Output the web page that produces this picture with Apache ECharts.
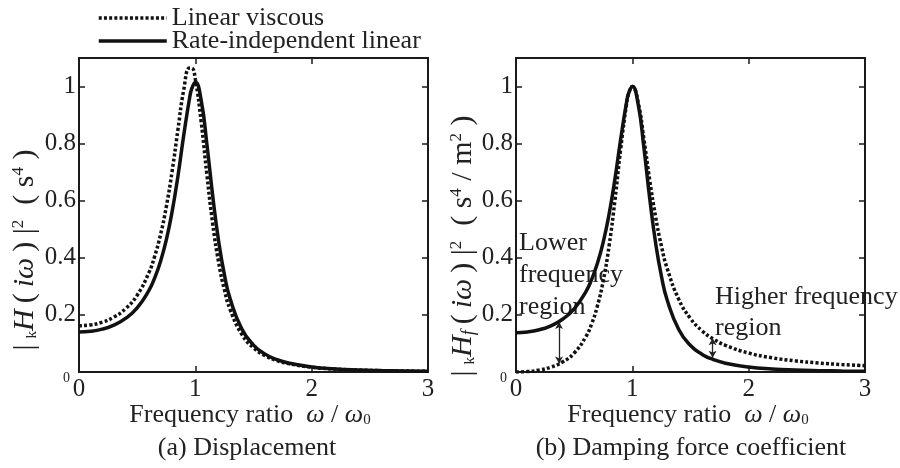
<!DOCTYPE html>
<html>
<head>
<meta charset="utf-8">
<script src="https://cdn.jsdelivr.net/npm/echarts@6/dist/echarts.min.js"></script>
<style>
html,body{margin:0;padding:0;background:#fff;}
#c{width:900px;height:468px;}
</style>
</head>
<body>
<div id="c"></div>
<script>
// Frequency ratio samples
const freqRatio = [0,0.1,0.2,0.3,0.4,0.5,0.6,0.65,0.7,0.75,0.8,0.85,0.9,0.95,0.97,1.0,1.05,1.1,1.15,1.2,1.25,1.3,1.4,1.5,1.6,1.7,1.8,2.0,2.2,2.4,2.6,2.8,3.0];
// (a) Displacement
const dispViscous = [0.162,0.165,0.1746,0.1923,0.2217,0.2691,0.3473,0.4047,0.48,0.578,0.7021,0.8474,0.9873,1.0651,1.0647,1.0253,0.8771,0.6885,0.5176,0.3847,0.2876,0.218,0.1316,0.0845,0.0571,0.0402,0.0293,0.0168,0.0104,0.0069,0.0047,0.0034,0.0025];
const dispRateInd = [0.14,0.1424,0.1501,0.1644,0.1876,0.2248,0.2851,0.3291,0.3866,0.4621,0.5608,0.6852,0.8281,0.9581,0.9933,1.015,0.9525,0.7957,0.6151,0.4593,0.3409,0.2553,0.1501,0.0943,0.0626,0.0435,0.0314,0.0177,0.0109,0.0071,0.0049,0.0035,0.0025];
// (b) Damping force coefficient
const dampViscous = [0,0.0016,0.0069,0.0171,0.035,0.0664,0.1233,0.1685,0.2316,0.3198,0.4414,0.6002,0.7821,0.9382,0.9773,1.0,0.9438,0.8145,0.6704,0.5434,0.4414,0.3622,0.2539,0.1873,0.1441,0.1146,0.0936,0.0664,0.0499,0.0391,0.0316,0.0261,0.022];
const dampRateInd = [0.1379,0.1403,0.1479,0.1619,0.1848,0.2215,0.2809,0.3242,0.3809,0.4553,0.5525,0.6751,0.8159,0.9439,0.9786,1.0,0.9384,0.7839,0.606,0.4525,0.3358,0.2515,0.1479,0.0929,0.0617,0.0429,0.0309,0.0175,0.0107,0.007,0.0048,0.0034,0.0025];
// Annotation arrows: [x, yTop, yBottom]
const lowerArrow = [0.37, 0.175, 0.03];
const higherArrow = [1.69, 0.118, 0.05];
const seriesNames = ['Linear viscous', 'Rate-independent linear'];

const FONT = 'Liberation Serif';
const TXT = '#222';
const AX = '#1a1a1a';

function pairs(arr){ return freqRatio.map((x,i)=>[x,arr[i]]); }

function xAx(gridIndex, top){
  return {
    type:'value', gridIndex, position: top ? 'top' : 'bottom', min:0, max:3, interval:1,
    axisLine:{show:true, onZero:false, lineStyle:{color:AX,width:2}},
    axisTick:{show:true, inside:true, length:6, lineStyle:{color:AX,width:1.5}},
    axisLabel:{show:!top, fontFamily:FONT, fontSize:25, color:TXT, margin:5},
    splitLine:{show:false}
  };
}
function yAx(gridIndex, right){
  return {
    type:'value', gridIndex, position: right ? 'right' : 'left', min:0, max:1.1, interval:0.2,
    axisLine:{show:true, onZero:false, lineStyle:{color:AX,width:2}},
    axisTick:{show:true, inside:true, length:6, lineStyle:{color:AX,width:1.5}},
    axisLabel:{show:!right, showMaxLabel:false, fontFamily:FONT, fontSize:25, color:TXT, margin:3,
      formatter: v => v === 0 ? '{s|0}' : String(+v.toFixed(1)),
      rich:{s:{fontFamily:FONT, fontSize:14, color:TXT, padding:[12,6,0,0]}}},
    splitLine:{show:false}
  };
}

const dotted = {color:'#111', width:3.5, type:[3,2.2]};
const solid = {color:'#111', width:3.5, type:'solid'};

function line(name, data, xi, yi, style, extra){
  return Object.assign({
    name, type:'line', xAxisIndex:xi, yAxisIndex:yi, data:pairs(data),
    showSymbol:false, symbol:'none', smooth:0.5,
    lineStyle:style, itemStyle:{color:'#111'}, animation:false, z:3
  }, extra || {});
}

const arrowMark = {
  silent:true, symbol:['arrow','arrow'], symbolSize:[6,7],
  lineStyle:{color:'#222', width:1.3, type:'solid'}, label:{show:false},
  data:[
    [{coord:[lowerArrow[0], lowerArrow[1]]},{coord:[lowerArrow[0], lowerArrow[2]]}],
    [{coord:[higherArrow[0], higherArrow[1]]},{coord:[higherArrow[0], higherArrow[2]]}]
  ]
};

const baseText = {fontFamily:FONT, fontSize:26, fill:TXT};
function txt(x, y, text, extra){
  return {type:'text', x, y, silent:true, style:Object.assign({}, baseText, {text}, extra || {})};
}
const richY = {
  k:{fontFamily:FONT, fontSize:15, verticalAlign:'bottom', fill:TXT},
  it:{fontFamily:FONT, fontSize:30, fontStyle:'italic', fill:TXT},
  sp:{fontFamily:FONT, fontSize:17, verticalAlign:'top', fill:TXT},
  sub:{fontFamily:FONT, fontSize:18, fontStyle:'italic', verticalAlign:'bottom', fill:TXT}
};
const richX = {
  it:{fontFamily:FONT, fontSize:26, fontStyle:'italic', fill:TXT},
  sub:{fontFamily:FONT, fontSize:15, verticalAlign:'bottom', fill:TXT}
};

const option = {
  backgroundColor:'#fff',
  animation:false,
  textStyle:{fontFamily:FONT},
  legend:{
    orient:'vertical', left:92, top:0, itemWidth:68, itemHeight:12, itemGap:-3,
    data:seriesNames, icon:'inherit',
    itemStyle:{opacity:0},
    lineStyle:{width:3.5},
    textStyle:{fontFamily:FONT, fontSize:26, color:TXT, lineHeight:26},
    selectedMode:false
  },
  grid:[
    {left:79, top:58, width:349, height:314},
    {left:516, top:58, width:349, height:314}
  ],
  xAxis:[xAx(0,false), xAx(0,true), xAx(1,false), xAx(1,true)],
  yAxis:[yAx(0,false), yAx(0,true), yAx(1,false), yAx(1,true)],
  series:[
    line(seriesNames[0], dispViscous, 0, 0, dotted),
    line(seriesNames[1], dispRateInd, 0, 0, solid),
    line(seriesNames[0], dampViscous, 2, 2, dotted),
    line(seriesNames[1], dampRateInd, 2, 2, solid, {markLine:arrowMark})
  ],
  graphic:[
    // y-axis names
    {type:'text', x:25, y:250, rotation:Math.PI/2, silent:true,
      style:{text:'|\u2009{k|k}{it|H}\u2009(\u2009{it|iω}\u2009) |{sp|2}  ( s{sp|4} )', fontFamily:FONT, fontSize:30, fill:TXT,
        align:'center', verticalAlign:'middle', rich:richY}},
    {type:'text', x:463, y:246, rotation:Math.PI/2, silent:true,
      style:{text:'|\u2009{k|k}{it|H}{sub|f}\u2009(\u2009{it|iω}\u2009) |{sp|2}  ( s{sp|4} / m{sp|2} )', fontFamily:FONT, fontSize:30, fill:TXT,
        align:'center', verticalAlign:'middle', rich:richY}},
    // x-axis names
    txt(250, 415, 'Frequency ratio  {it|ω} / {it|ω}{sub|0}', {align:'center', verticalAlign:'middle', rich:richX}),
    txt(688, 415, 'Frequency ratio  {it|ω} / {it|ω}{sub|0}', {align:'center', verticalAlign:'middle', rich:richX}),
    // captions
    txt(247, 448, '(a) Displacement', {align:'center', verticalAlign:'middle'}),
    txt(691, 448, '(b) Damping force coefficient', {align:'center', verticalAlign:'middle'}),
    // annotations
    txt(519, 243, 'Lower', {align:'left', verticalAlign:'middle'}),
    txt(519, 275, 'frequency', {align:'left', verticalAlign:'middle'}),
    txt(519, 307, 'region', {align:'left', verticalAlign:'middle'}),
    txt(715, 297, 'Higher frequency', {align:'left', verticalAlign:'middle'}),
    txt(715, 328, 'region', {align:'left', verticalAlign:'middle'})
  ]
};
const chart = echarts.init(document.getElementById('c'), null, {renderer:'canvas'});
chart.setOption(option);
</script>
</body>
</html>
